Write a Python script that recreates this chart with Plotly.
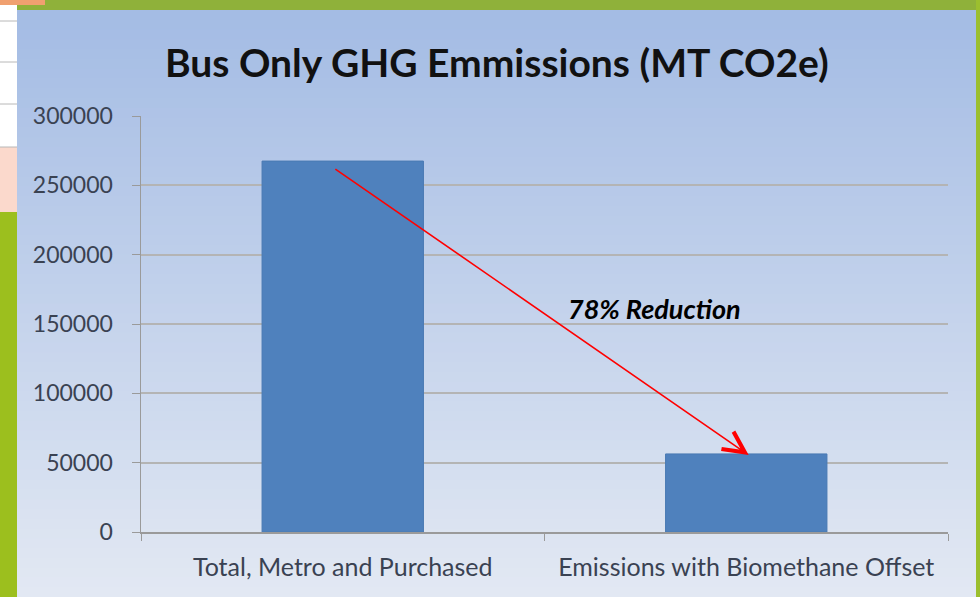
import plotly.graph_objects as go

# ---- data ----
categories = ["Total, Metro and Purchased", "Emissions with Biomethane Offset"]
emissions = [267500, 56300]
y_ticks = [0, 50000, 100000, 150000, 200000, 250000, 300000]
title_text = "Bus Only GHG Emmissions (MT CO2e)"
note_text = "78% Reduction"
# arrow endpoints (category index, value)
arrow_start = (-0.022, 262500)
arrow_end = (1.006, 55500)

W, H = 980, 597
L, R, T, B = 141, 32, 116, 65
PW, PH = W - L - R, H - T - B

def px(x):
    return (x - L) / PW

def py(y):
    return (H - B - y) / PH

shapes = []
# gradient panel background
top_c = (164, 188, 228)
bot_c = (226, 232, 243)
n = 60
y0p, y1p = 10, 597
for i in range(n):
    t = i / (n - 1)
    c = tuple(int(round(top_c[k] + (bot_c[k] - top_c[k]) * t)) for k in range(3))
    ya = y0p + (y1p - y0p) * i / n
    yb = y0p + (y1p - y0p) * (i + 1) / n + 1
    shapes.append(dict(type="rect", xref="paper", yref="paper",
                       x0=px(17), x1=px(976), y0=py(yb), y1=py(ya),
                       fillcolor="rgb(%d,%d,%d)" % c, line=dict(width=0), layer="below"))
# surroundings: top green band, right green, left strip
shapes.append(dict(type="rect", xref="paper", yref="paper", x0=px(0), x1=px(980), y0=py(10), y1=py(0),
                   fillcolor="#8fb13a", line=dict(width=0), layer="below"))
shapes.append(dict(type="rect", xref="paper", yref="paper", x0=px(0), x1=px(45), y0=py(5), y1=py(0),
                   fillcolor="#f0a070", line=dict(width=0), layer="below"))
shapes.append(dict(type="rect", xref="paper", yref="paper", x0=px(976), x1=px(980), y0=py(597), y1=py(0),
                   fillcolor="#9cbf2e", line=dict(width=0), layer="below"))
shapes.append(dict(type="rect", xref="paper", yref="paper", x0=px(0), x1=px(17), y0=py(147), y1=py(5),
                   fillcolor="#ffffff", line=dict(width=0), layer="below"))
shapes.append(dict(type="rect", xref="paper", yref="paper", x0=px(0), x1=px(17), y0=py(212), y1=py(147),
                   fillcolor="#fbd9cc", line=dict(width=0), layer="below"))
shapes.append(dict(type="rect", xref="paper", yref="paper", x0=px(0), x1=px(17), y0=py(597), y1=py(212),
                   fillcolor="#9cbf1e", line=dict(width=0), layer="below"))
for yy in [21, 62, 104, 147]:
    shapes.append(dict(type="line", xref="paper", yref="paper", x0=px(0), x1=px(17), y0=py(yy), y1=py(yy),
                       line=dict(color="#b8b8b8", width=1), layer="below"))

fig = go.Figure()
fig.add_trace(go.Bar(x=categories, y=emissions, width=0.4, hoverinfo="skip",
                     marker=dict(color="#4f81bd", line=dict(color="#4a7ab3", width=1))))

fig.add_annotation(x=arrow_end[0], y=arrow_end[1], ax=arrow_start[0], ay=arrow_start[1],
                   xref="x", yref="y", axref="x", ayref="y", text="", showarrow=True,
                   arrowhead=5, arrowsize=2.6, arrowwidth=1.6, arrowcolor="#ff0000")
fig.add_annotation(x=px(654), y=py(308), xref="paper", yref="paper", xanchor="center", yanchor="middle",
                   text="<b><i>%s</i></b>" % note_text,
                   showarrow=False, font=dict(family="Lato", size=27, color="#000000"))
fig.add_annotation(x=px(497), y=py(62), xref="paper", yref="paper", xanchor="center", yanchor="middle",
                   text="<b>%s</b>" % title_text,
                   showarrow=False, font=dict(family="Lato", size=39, color="#111111"))

fig.update_layout(
    width=W, height=H, margin=dict(l=L, r=R, t=T, b=B),
    paper_bgcolor="#dfe6f2", plot_bgcolor="#ffffff",
    showlegend=False, shapes=shapes,
    font=dict(family="Lato", size=22, color="#3a4252"),
)
fig.update_xaxes(type="category", range=[-0.5, 1.5], showline=True, linecolor="#9a9a9a", linewidth=1.5,
                 ticks="outside", tickson="boundaries", ticklen=7, tickcolor="#9a9a9a",
                 ticklabelstandoff=12,
                 tickfont=dict(family="Lato", size=25, color="#3a4252"), showgrid=False)
fig.update_yaxes(range=[0, 300000], tickvals=y_ticks, ticktext=[str(v) for v in y_ticks],
                 showline=True, linecolor="#9a9a9a", linewidth=1.5, ticks="outside", ticklen=8,
                 ticklabelstandoff=14,
                 tickcolor="#9a9a9a", gridcolor="#b4b4b4", gridwidth=2, zeroline=False,
                 tickfont=dict(family="Lato", size=23, color="#3a4252"))

fig.write_html("out.html", config={"displayModeBar": False, "staticPlot": True},
               post_script="document.body.style.margin='0px';document.body.style.overflow='hidden';")
